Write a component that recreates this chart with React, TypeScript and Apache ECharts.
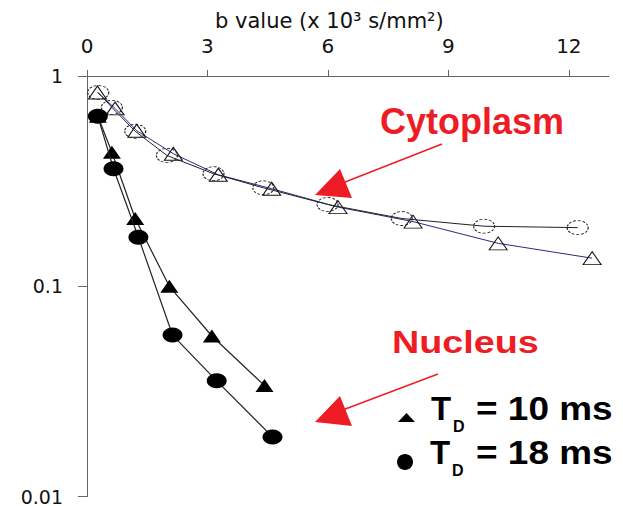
import React, { useEffect, useRef } from "react";
import * as echarts from "echarts";

// ---- data ----
const xTicks = [0, 3, 6, 9, 12];
const yTickLabels = ["0.01", "0.1", "1"];

// Cytoplasm, TD = 10 ms (open triangles)
const cyto10B = [0.26, 0.7, 1.24, 2.15, 3.27, 4.6, 6.25, 8.12, 10.24, 12.58];
const cyto10S = [0.835, 0.701, 0.549, 0.427, 0.339, 0.291, 0.238, 0.203, 0.16, 0.136];
// Cytoplasm, TD = 18 ms (open circles)
const cyto18B = [0.28, 0.62, 1.2, 1.99, 3.15, 4.39, 5.99, 7.84, 9.89, 12.22];
const cyto18S = [0.835, 0.709, 0.546, 0.419, 0.343, 0.294, 0.245, 0.21, 0.193, 0.19];
// Nucleus, TD = 10 ms (filled triangles)
const nuc10B = [0.27, 0.62, 1.2, 2.05, 3.11, 4.42];
const nuc10S = [0.643, 0.434, 0.21, 0.0999, 0.058, 0.0337];
// Nucleus, TD = 18 ms (filled circles)
const nuc18B = [0.27, 0.66, 1.28, 2.13, 3.23, 4.62];
const nuc18S = [0.643, 0.362, 0.171, 0.0586, 0.0355, 0.0192];

const pairs = (b: number[], s: number[]) => b.map((v, i) => [v, s[i]]);

const RED = "#ee1d25";
const AX = "DejaVu Sans";
const BOLD = "Liberation Sans, Arial, sans-serif";

export default function App() {
  const ref = useRef<HTMLDivElement>(null);
  useEffect(() => {
    if (!ref.current) return;
    const chart = echarts.init(ref.current, undefined, { renderer: "svg" });
    chart.setOption({
      animation: false,
      backgroundColor: "#ffffff",
      grid: { left: 87, top: 76, width: 522, height: 423, containLabel: false },
      xAxis: {
        type: "value",
        position: "top",
        min: 0,
        max: 13,
        interval: 3,
        axisLine: { show: true, lineStyle: { color: "#666", width: 1 } },
        axisTick: { show: true, inside: false, length: 6, customValues: xTicks, lineStyle: { color: "#666" } },
        axisLabel: {
          customValues: xTicks,
          margin: 20,
          fontSize: 20,
          fontFamily: AX,
          color: "#111",
        },
        splitLine: { show: false },
      },
      yAxis: {
        type: "log",
        logBase: 10,
        min: 0.01,
        max: 1,
        axisLine: { show: true, lineStyle: { color: "#666", width: 1 } },
        axisTick: { show: true, inside: false, length: 9, lineStyle: { color: "#666" } },
        axisLabel: {
          margin: 24,
          fontSize: 19,
          fontFamily: AX,
          color: "#111",
          formatter: (v: number) => {
            const e = Math.round(Math.log10(v));
            return yTickLabels[e + 2] ?? "";
          },
        },
        splitLine: { show: false },
        minorTick: { show: false },
      },
      series: [
        {
          name: "Cytoplasm 10 ms",
          type: "line",
          data: pairs(cyto10B, cyto10S),
          symbol: "triangle",
          symbolSize: [18, 13],
          lineStyle: { color: "#2a2a80", width: 1 },
          itemStyle: { color: "rgba(255,255,255,0)", borderColor: "#111", borderWidth: 1 },
          z: 2,
        },
        {
          name: "Cytoplasm 18 ms",
          type: "line",
          data: pairs(cyto18B, cyto18S),
          symbol: "circle",
          symbolSize: [21, 14],
          lineStyle: { color: "#222", width: 1 },
          itemStyle: {
            color: "rgba(255,255,255,0)",
            borderColor: "#222",
            borderWidth: 1,
            borderType: [2.5, 1.5],
          },
          z: 3,
        },
        {
          name: "Nucleus 10 ms",
          type: "line",
          data: pairs(nuc10B, nuc10S),
          symbol: "triangle",
          symbolSize: [18, 13],
          lineStyle: { color: "#222", width: 1.2 },
          itemStyle: { color: "#000", borderWidth: 0 },
          z: 4,
        },
        {
          name: "Nucleus 18 ms",
          type: "line",
          data: pairs(nuc18B, nuc18S),
          symbol: "circle",
          symbolSize: [20, 15],
          lineStyle: { color: "#222", width: 1.2 },
          itemStyle: { color: "#000", borderWidth: 0 },
          z: 5,
        },
      ],
      graphic: [
        {
          type: "text",
          x: 215,
          y: 21,
          style: {
            text: "b value (x 10³ s/mm²)",
            fontSize: 21,
            fontFamily: AX,
            fill: "#111",
            align: "left",
            verticalAlign: "middle",
          },
        },
        {
          type: "text",
          x: 380,
          y: 121,
          scaleX: 1.0,
          style: {
            text: "Cytoplasm",
            fontSize: 36,
            fontWeight: "bold",
            fontFamily: BOLD,
            fill: RED,
            align: "left",
            verticalAlign: "middle",
          },
        },
        {
          type: "text",
          x: 392,
          y: 341.5,
          scaleX: 1.18,
          style: {
            text: "Nucleus",
            fontSize: 32,
            fontWeight: "bold",
            fontFamily: BOLD,
            fill: RED,
            align: "left",
            verticalAlign: "middle",
          },
        },
        {
          type: "line",
          shape: { x1: 442, y1: 144, x2: 340, y2: 184 },
          style: { stroke: RED, lineWidth: 1.5 },
        },
        {
          type: "polygon",
          shape: { points: [[315, 195], [340, 169], [352, 198]] },
          style: { fill: RED },
        },
        {
          type: "line",
          shape: { x1: 438, y1: 374, x2: 340, y2: 411 },
          style: { stroke: RED, lineWidth: 1.5 },
        },
        {
          type: "polygon",
          shape: { points: [[315, 422], [340, 396], [352, 426]] },
          style: { fill: RED },
        },
        // legend
        {
          type: "polygon",
          shape: { points: [[398, 422], [415, 422], [406.5, 413]] },
          style: { fill: "#000" },
        },
        {
          type: "ellipse",
          shape: { cx: 405, cy: 462, rx: 8, ry: 8 },
          style: { fill: "#000" },
        },
        {
          type: "text",
          x: 431,
          y: 408.5,
          style: { text: "T", fontSize: 33, fontWeight: "bold", fontFamily: BOLD, fill: "#000", align: "left", verticalAlign: "middle" },
        },
        {
          type: "text",
          x: 453,
          y: 426,
          style: { text: "D", fontSize: 16, fontWeight: "bold", fontFamily: BOLD, fill: "#000", align: "left", verticalAlign: "middle" },
        },
        {
          type: "text",
          x: 476,
          y: 408.5,
          scaleX: 1.12,
          style: { text: "= 10 ms", fontSize: 33, fontWeight: "bold", fontFamily: BOLD, fill: "#000", align: "left", verticalAlign: "middle" },
        },
        {
          type: "text",
          x: 430,
          y: 452.5,
          style: { text: "T", fontSize: 33, fontWeight: "bold", fontFamily: BOLD, fill: "#000", align: "left", verticalAlign: "middle" },
        },
        {
          type: "text",
          x: 452,
          y: 470,
          style: { text: "D", fontSize: 16, fontWeight: "bold", fontFamily: BOLD, fill: "#000", align: "left", verticalAlign: "middle" },
        },
        {
          type: "text",
          x: 476,
          y: 452.5,
          scaleX: 1.12,
          style: { text: "= 18 ms", fontSize: 33, fontWeight: "bold", fontFamily: BOLD, fill: "#000", align: "left", verticalAlign: "middle" },
        },
      ],
    });
    return () => chart.dispose();
  }, []);
  return (
    <div
      ref={ref}
      style={{ position: "absolute", left: 0, top: 0, width: 623, height: 506, background: "#fff" }}
    />
  );
}
